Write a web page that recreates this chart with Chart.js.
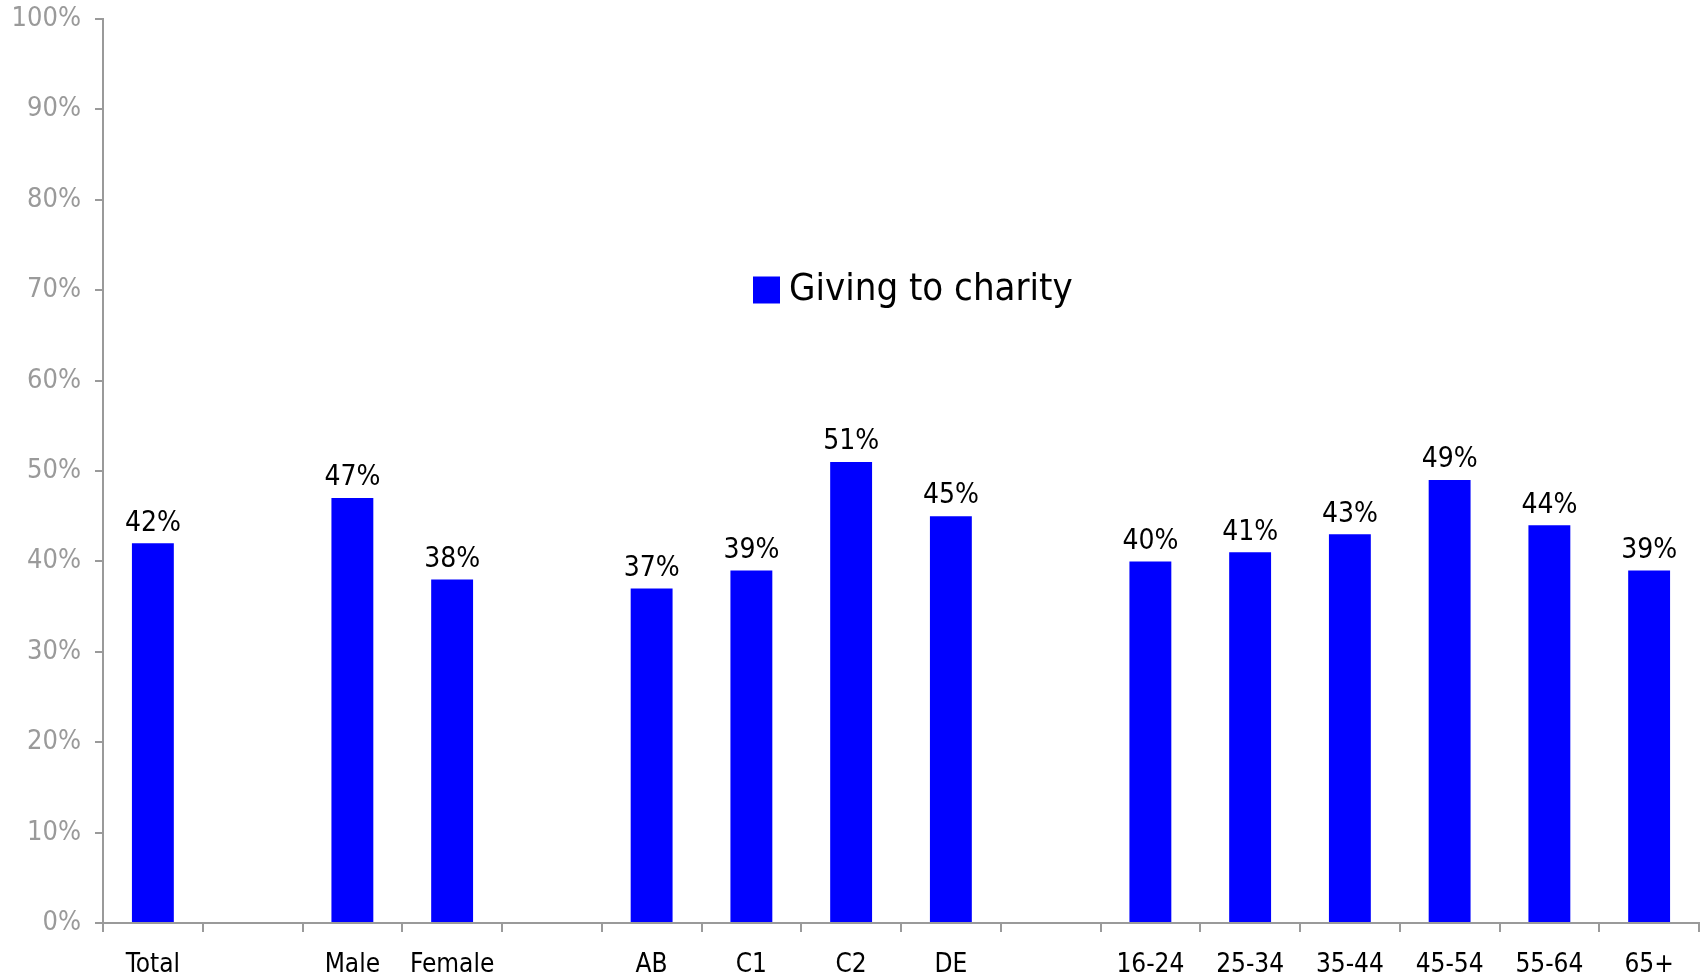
<!DOCTYPE html>
<html>
<head>
<meta charset="utf-8">
<script src="https://cdn.jsdelivr.net/npm/chart.js@4/dist/chart.umd.min.js"></script>
<style>
html,body{margin:0;padding:0;background:#fff;}
#wrap{width:1701px;height:975px;position:relative;}
</style>
</head>
<body>
<div id="wrap"><canvas id="c" width="1701" height="975"></canvas></div>
<script>
const categories = ["Total", "", "Male", "Female", "", "AB", "C1", "C2", "DE", "", "16-24", "25-34", "35-44", "45-54", "55-64", "65+"];
const givingValues = [42, null, 47, 38, null, 37, 39, 51, 45, null, 40, 41, 43, 49, 44, 39];
const yTicks = [0, 10, 20, 30, 40, 50, 60, 70, 80, 90, 100];
const seriesName = "Giving to charity";

const FONT = "'DejaVu Sans Condensed', 'DejaVu Sans', sans-serif";
const BLUE = "#0000FF";
const AXIS = "#9a9a9a";

const valueLabels = {
  id: 'valueLabels',
  afterDatasetsDraw(chart) {
    const ctx = chart.ctx;
    const meta = chart.getDatasetMeta(0);
    ctx.save();
    ctx.font = "28px " + FONT;
    ctx.fillStyle = "#000";
    ctx.textAlign = "center";
    ctx.textBaseline = "bottom";
    meta.data.forEach((bar, i) => {
      const v = chart.data.datasets[0].data[i];
      if (v === null || v === undefined) return;
      ctx.fillText(v + "%", bar.x, bar.y - 6);
    });
    ctx.restore();
  }
};

const innerLegend = {
  id: 'innerLegend',
  afterDraw(chart) {
    const ctx = chart.ctx;
    const ds = chart.data.datasets[0];
    ctx.save();
    ctx.font = "38px " + FONT;
    const boxX = 753, boxSize = 27, cy = 290;
    ctx.fillStyle = ds.backgroundColor;
    ctx.fillRect(boxX, cy - boxSize / 2, boxSize, boxSize);
    ctx.fillStyle = "#000";
    ctx.textAlign = "left";
    ctx.textBaseline = "middle";
    ctx.fillText(ds.label, boxX + boxSize + 9, cy);
    ctx.restore();
  }
};

new Chart(document.getElementById('c'), {
  type: 'bar',
  data: {
    labels: categories,
    datasets: [{
      label: seriesName,
      data: givingValues,
      backgroundColor: BLUE,
      borderWidth: 0,
      barPercentage: 0.42,
      categoryPercentage: 1.0
    }]
  },
  options: {
    responsive: false,
    animation: false,
    devicePixelRatio: 1,
    layout: { padding: { top: 19, right: 2, left: 0, bottom: 0 } },
    plugins: {
      legend: { display: false },
      tooltip: { enabled: false }
    },
    scales: {
      x: {
        grid: {
          display: true,
          drawOnChartArea: false,
          drawTicks: true,
          tickLength: 9,
          color: AXIS,
          lineWidth: 2,
          offset: true
        },
        border: { display: true, color: AXIS, width: 2 },
        ticks: {
          color: "#000",
          font: { size: 26, family: FONT },
          padding: 18,
          autoSkip: false,
          maxRotation: 0
        },
        afterFit(scale) { scale.height = 52; scale.paddingLeft = 0; scale.paddingRight = 0; }
      },
      y: {
        min: 0,
        max: 100,
        afterBuildTicks(scale) { scale.ticks = yTicks.map(v => ({ value: v })); },
        grid: {
          display: true,
          drawOnChartArea: false,
          drawTicks: true,
          tickLength: 8,
          color: AXIS,
          lineWidth: 2
        },
        border: { display: true, color: AXIS, width: 2 },
        ticks: {
          color: AXIS,
          font: { size: 27, family: FONT },
          padding: 14,
          callback: v => v + "%"
        },
        afterFit(scale) { scale.width = 103; scale.paddingTop = 0; scale.paddingBottom = 0; }
      }
    }
  },
  plugins: [valueLabels, innerLegend]
});
</script>
</body>
</html>
